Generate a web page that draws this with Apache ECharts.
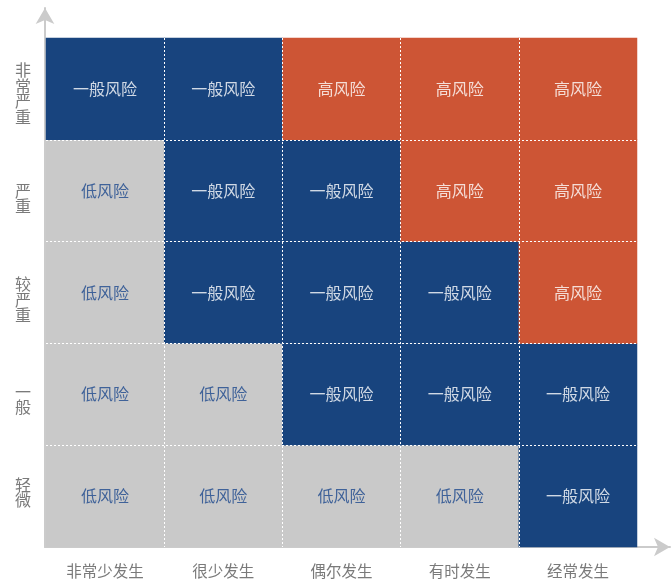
<!DOCTYPE html>
<html><head><meta charset="utf-8">
<script src="https://cdn.jsdelivr.net/npm/echarts@6/dist/echarts.min.js"></script>
<style>html,body{margin:0;padding:0;background:#fff}#c{width:672px;height:582px}</style>
</head><body><div id="c"></div>
<script>
const xCategories = ['非常少发生', '很少发生', '偶尔发生', '有时发生', '经常发生'];
const yCategories = ['轻微', '一般', '较严重', '严重', '非常严重'];
const levelNames = ['低风险', '一般风险', '高风险'];
// risk level per row (bottom to top), per column
const row轻微 = [0, 0, 0, 0, 1];
const row一般 = [0, 0, 1, 1, 1];
const row较严重 = [0, 1, 1, 1, 2];
const row严重 = [0, 1, 1, 2, 2];
const row非常严重 = [1, 1, 2, 2, 2];
const rows = [row轻微, row一般, row较严重, row严重, row非常严重];

const fillColors = ['#c9c9c9', '#18447e', '#cd5535'];
const textColors = ['#3f6299', 'rgba(255,255,255,0.8)', 'rgba(255,255,255,0.8)'];
// vertical label nudges (style only): rich spacer key above (t) or below (b)
const yLabelNudge = { '轻微': 'b7', '一般': 't10', '较严重': 't14', '严重': 't15', '非常严重': 't9' };
const spacer = h => ({ fontSize: 1, lineHeight: h, height: h });

const data = [];
rows.forEach((r, yi) => r.forEach((v, xi) => {
  data.push({ value: [xi, yi, v], itemStyle: { color: fillColors[v] }, label: { color: textColors[v] } });
}));

const FONT = '"Noto Sans CJK SC", sans-serif';
const chart = echarts.init(document.getElementById('c'), null, { renderer: 'canvas' });
chart.setOption({
  animation: false,
  grid: [
    { left: 46, right: 35, top: 38, bottom: 35 },
    { left: 45, right: 2, top: 8, bottom: 35 }
  ],
  xAxis: [
    {
      type: 'category', data: xCategories, gridIndex: 0, z: 10,
      axisLine: { show: false }, axisTick: { show: false },
      axisLabel: { color: '#7a7a7a', fontSize: 15.5, fontFamily: FONT, margin: 16 },
      splitLine: { show: true, showMinLine: false, showMaxLine: false, lineStyle: { color: '#fff', type: [2, 2], width: 1 } }
    },
    {
      type: 'value', gridIndex: 1, min: 0, max: 1,
      axisLine: { show: true, symbol: ['none', 'arrow'], symbolSize: [14, 16], lineStyle: { color: '#cbcbcb', width: 2 } },
      axisTick: { show: false }, axisLabel: { show: false }, splitLine: { show: false }
    }
  ],
  yAxis: [
    {
      type: 'category', gridIndex: 0, z: 10, data: yCategories,
      axisLine: { show: false }, axisTick: { show: false },
      axisLabel: {
        color: '#7a7a7a', fontSize: 16, fontFamily: FONT, margin: 15, lineHeight: 15.5,
        formatter: s => {
          const body = s.split('').map(ch => '{c|' + ch + '}').join('\n');
          const n = yLabelNudge[s];
          if (!n) return body;
          const key = 's' + n.slice(1);
          return n[0] === 't' ? '{' + key + '| }\n' + body : body + '\n{' + key + '| }';
        },
        rich: {
          c: { fontSize: 16, lineHeight: 15.5, color: '#7a7a7a', fontFamily: FONT },
          s7: spacer(7), s9: spacer(9), s10: spacer(10), s14: spacer(14), s15: spacer(15)
        }
      },
      splitLine: { show: true, showMinLine: false, showMaxLine: false, lineStyle: { color: '#fff', type: [2, 2], width: 1 } }
    },
    {
      type: 'value', gridIndex: 1, min: 0, max: 1,
      axisLine: { show: true, symbol: ['none', 'arrow'], symbolSize: [14, 16], lineStyle: { color: '#cbcbcb', width: 2 } },
      axisTick: { show: false }, axisLabel: { show: false }, splitLine: { show: false }
    }
  ],
  series: [{
    type: 'heatmap', xAxisIndex: 0, yAxisIndex: 0,
    data: data,
    label: { show: true, fontSize: 16, fontFamily: FONT, formatter: p => levelNames[p.value[2]] },
    itemStyle: { borderWidth: 0 },
    emphasis: { disabled: true }
  }]
});
</script></body></html>
